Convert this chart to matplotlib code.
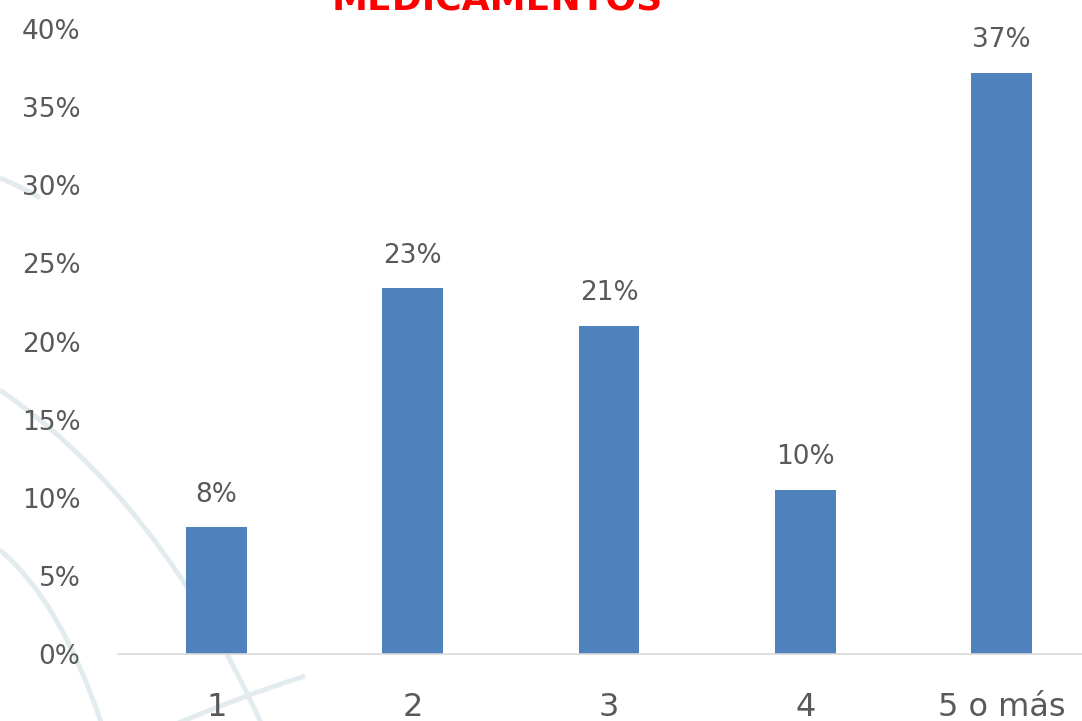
import matplotlib.pyplot as plt
from matplotlib.path import Path
from matplotlib.patches import PathPatch
from matplotlib.ticker import FuncFormatter

categories = ["1", "2", "3", "4", "5 o más"]
values = [8.1, 23.4, 21.0, 10.5, 37.2]
labels = ["8%", "23%", "21%", "10%", "37%"]
title = "MEDICAMENTOS"

bar_color = "#4F81BD"
text_color = "#595959"

plt.rcParams["font.family"] = ["DejaVu Sans"]

fig = plt.figure(figsize=(10.82, 7.21), dpi=100)

# faint decorative curves in the background (pixel coords, y down)
bg = fig.add_axes([0, 0, 1, 1], zorder=0)
bg.set_xlim(0, 1082)
bg.set_ylim(721, 0)
bg.axis("off")
curves = [
    [(0, 178), (20, 186), (40, 198)],
    [(0, 390), (160, 500), (262, 725)],
    [(0, 550), (60, 600), (102, 725)],
    [(150, 735), (230, 700), (305, 676)],
]
for pts in curves:
    p = Path(pts, [Path.MOVETO, Path.CURVE3, Path.CURVE3])
    bg.add_patch(PathPatch(p, fill=False, edgecolor="#E2EBEE", lw=3.5))

ax = fig.add_axes([118 / 1082, (721 - 654) / 721, (1100 - 118) / 1082, 625 / 721], zorder=1)
ax.patch.set_alpha(0)
x = range(len(categories))
rects = ax.bar(x, values, width=0.31, color=bar_color)
ax.bar_label(rects, labels=labels, padding=14, fontsize=19, color=text_color)

ax.set_xlim(-0.5, 4.5)
ax.set_ylim(0, 40)
ax.set_yticks(range(0, 41, 5))
ax.yaxis.set_major_formatter(FuncFormatter(lambda v, p: f"{v:.0f}%"))
ax.set_xticks(list(x), categories)
ax.tick_params(axis="y", length=0, labelsize=19, labelcolor=text_color, pad=27)
ax.tick_params(axis="x", length=0, labelsize=23, labelcolor=text_color, pad=27)
for s in ["top", "right", "left"]:
    ax.spines[s].set_visible(False)
ax.spines["bottom"].set_color("#D9D9D9")
ax.spines["bottom"].set_linewidth(1.2)

fig.text(497 / 1082, 1 - 10 / 721, title, ha="center", va="baseline",
         fontsize=26, fontweight="bold", color="#FF0000")

fig.savefig("out.png", dpi=100)
